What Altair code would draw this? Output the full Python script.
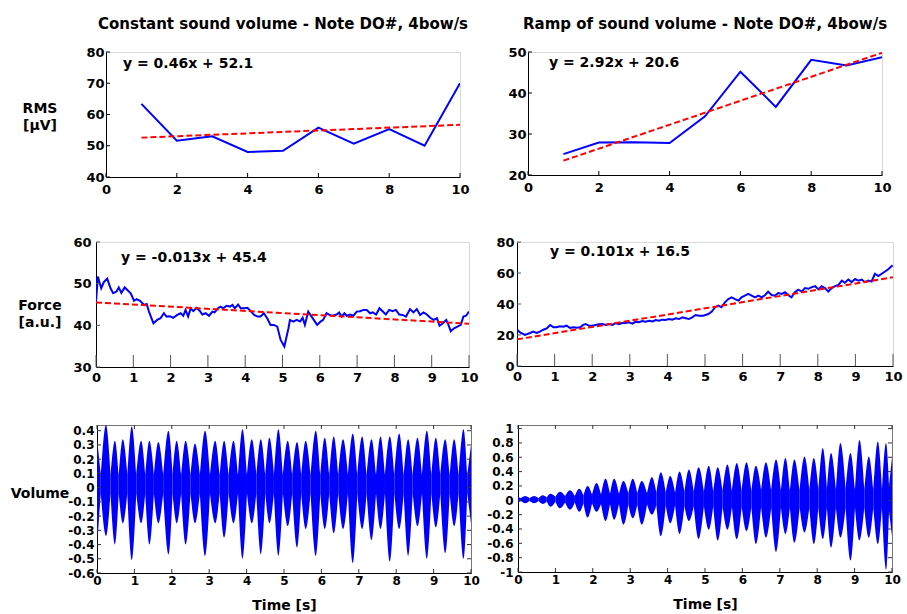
import altair as alt
import pandas as pd

FONT = "DejaVu Sans"
BLUE = "#0000ff"
RED = "#ff0000"

# ---------------- texts ----------------
col_titles = ["Constant sound volume - Note DO#, 4bow/s", "Ramp of sound volume - Note DO#, 4bow/s"]
row_labels = ["RMS\n[µV]", "Force\n[a.u.]", "Volume"]
eq_texts = ["y = 0.46x + 52.1", "y = 2.92x + 20.6", "y = -0.013x + 45.4", "y = 0.101x + 16.5"]
x_title = "Time [s]"

# ---------------- RMS (top row) ----------------
rms_x = [1, 2, 3, 4, 5, 6, 7, 8, 9, 10]
rms_const = [63.4, 51.6, 53.0, 48.0, 48.4, 55.8, 50.7, 55.3, 50.0, 70.0]
rms_ramp = [25.1, 27.9, 28.0, 27.8, 34.3, 45.2, 36.6, 48.1, 46.7, 48.7]
rms_fit_x = [1, 10]
rms_fit_const = [52.6, 56.7]
rms_fit_ramp = [23.5, 49.8]

# ---------------- Force (middle row) ----------------
force_const_t = [0.00, 0.05, 0.14, 0.21, 0.30, 0.39, 0.46, 0.55, 0.61, 0.68,
                 0.77, 0.84, 0.93, 1.02, 1.09, 1.18, 1.29, 1.36, 1.42, 1.54,
                 1.64, 1.73, 1.82, 1.89, 1.98, 2.07, 2.18, 2.27, 2.34, 2.40,
                 2.47, 2.54, 2.61, 2.70, 2.79, 2.85, 2.94, 3.03, 3.12, 3.18,
                 3.27, 3.34, 3.41, 3.50, 3.59, 3.66, 3.72, 3.81, 3.88, 3.97,
                 4.06, 4.15, 4.24, 4.33, 4.41, 4.50, 4.59, 4.68, 4.77, 4.86,
                 4.95, 5.05, 5.16, 5.20, 5.29, 5.38, 5.47, 5.54, 5.60, 5.69,
                 5.78, 5.87, 5.93, 6.02, 6.09, 6.18, 6.26, 6.34, 6.45, 6.52,
                 6.58, 6.66, 6.72, 6.81, 6.90, 6.99, 7.08, 7.17, 7.26, 7.35,
                 7.42, 7.51, 7.60, 7.69, 7.77, 7.86, 7.95, 8.04, 8.13, 8.22,
                 8.31, 8.42, 8.51, 8.60, 8.69, 8.78, 8.87, 8.96, 9.05, 9.14,
                 9.21, 9.30, 9.39, 9.45, 9.51, 9.60, 9.69, 9.78, 9.85, 9.92,
                 10.00]
force_const = [45.6, 51.7, 48.9, 50.4, 51.2, 48.9, 47.7, 48.1, 49.1, 47.8,
               49.1, 48.5, 47.7, 45.9, 46.3, 45.9, 44.9, 45.1, 43.3, 40.5,
               41.3, 41.7, 42.9, 42.1, 42.2, 41.8, 42.5, 42.9, 42.3, 43.7,
               42.1, 44.1, 43.4, 44.2, 43.4, 42.6, 42.9, 42.3, 43.3, 43.1,
               44.1, 44.5, 44.1, 44.7, 44.5, 44.9, 44.1, 45.0, 44.1, 44.1,
               44.2, 43.4, 42.5, 42.1, 42.1, 42.9, 41.7, 40.1, 40.1, 39.7,
               36.5, 34.9, 39.3, 41.3, 40.9, 41.3, 40.9, 41.8, 40.1, 43.3,
               42.1, 40.9, 40.1, 40.9, 41.3, 42.9, 42.5, 42.3, 42.6, 43.1,
               42.1, 42.9, 42.3, 42.6, 42.3, 43.3, 43.4, 43.7, 43.7, 42.9,
               43.1, 42.6, 44.1, 43.3, 42.6, 43.7, 43.4, 43.7, 42.6, 42.5,
               42.1, 43.9, 43.1, 43.9, 42.5, 43.1, 42.6, 41.8, 41.3, 41.7,
               39.9, 40.5, 41.3, 40.1, 38.6, 39.3, 39.7, 40.1, 42.1, 42.3,
               43.3]
force_ramp_t = [0.00, 0.08, 0.21, 0.35, 0.43, 0.52, 0.61, 0.70, 0.79, 0.88,
                0.97, 1.05, 1.14, 1.23, 1.32, 1.41, 1.50, 1.59, 1.68, 1.76,
                1.83, 1.91, 2.00, 2.09, 2.18, 2.27, 2.36, 2.45, 2.54, 2.62,
                2.71, 2.80, 2.89, 2.98, 3.07, 3.16, 3.24, 3.33, 3.42, 3.51,
                3.60, 3.69, 3.78, 3.86, 3.95, 4.04, 4.13, 4.22, 4.31, 4.40,
                4.49, 4.57, 4.66, 4.75, 4.84, 4.95, 5.09, 5.18, 5.27, 5.35,
                5.44, 5.53, 5.62, 5.71, 5.80, 5.89, 5.97, 6.06, 6.15, 6.24,
                6.33, 6.42, 6.51, 6.60, 6.68, 6.77, 6.86, 6.95, 7.04, 7.13,
                7.21, 7.30, 7.39, 7.48, 7.57, 7.66, 7.75, 7.84, 7.93, 8.02,
                8.10, 8.19, 8.28, 8.37, 8.46, 8.55, 8.64, 8.72, 8.81, 8.90,
                8.99, 9.08, 9.17, 9.25, 9.34, 9.43, 9.52, 9.61, 9.70, 9.79,
                9.88, 9.99]
force_ramp = [23.5, 21.7, 20.0, 21.3, 22.2, 21.3, 22.2, 23.4, 24.3, 26.5,
              25.0, 25.0, 25.6, 25.4, 26.0, 24.5, 25.0, 24.7, 25.0, 26.5,
              27.1, 26.0, 26.0, 26.5, 26.9, 27.1, 26.5, 27.1, 26.5, 27.7,
              26.9, 27.7, 27.7, 28.2, 27.3, 28.6, 28.2, 29.0, 28.6, 29.2,
              28.8, 29.7, 29.2, 29.9, 29.7, 30.3, 29.9, 30.8, 30.3, 31.4,
              30.8, 30.3, 31.4, 32.9, 32.5, 32.5, 33.5, 35.1, 37.9, 39.0,
              37.9, 41.1, 43.2, 44.3, 43.2, 42.2, 44.3, 45.4, 46.5, 45.4,
              44.3, 45.4, 44.3, 45.8, 48.0, 45.8, 45.4, 47.1, 46.5, 47.6,
              45.8, 44.3, 47.6, 49.2, 48.0, 50.3, 49.8, 50.9, 51.5, 49.4,
              51.5, 50.3, 48.0, 50.3, 51.5, 52.3, 55.1, 53.7, 55.8, 54.1,
              56.1, 55.1, 55.8, 54.1, 55.1, 54.5, 59.5, 58.0, 59.5, 61.0,
              62.6, 65.0]
force_fit_t = [0, 10]
force_fit_const = [45.5, 40.4]
force_fit_ramp = [17.2, 57.2]

# ---------------- Volume envelopes (bottom row) ----------------
vol_const_peak_t = [0.00, 0.24, 0.48, 0.69, 0.93, 1.18, 1.40, 1.64, 1.91, 2.13,
                    2.37, 2.62, 2.89, 3.16, 3.40, 3.65, 3.89, 4.14, 4.38, 4.61,
                    4.85, 5.10, 5.35, 5.58, 5.85, 6.09, 6.33, 6.58, 6.84, 7.09,
                    7.34, 7.58, 7.83, 8.08, 8.32, 8.57, 8.82, 9.06, 9.31, 9.55,
                    9.80, 10.00]
vol_const_peak_hi = [0.35, 0.44, 0.33, 0.34, 0.43, 0.33, 0.33, 0.32, 0.40, 0.33,
                     0.33, 0.31, 0.40, 0.33, 0.33, 0.33, 0.41, 0.34, 0.34, 0.35,
                     0.41, 0.33, 0.32, 0.33, 0.40, 0.35, 0.36, 0.34, 0.38, 0.36,
                     0.34, 0.36, 0.36, 0.38, 0.34, 0.35, 0.40, 0.35, 0.34, 0.34,
                     0.41, 0.30]
vol_const_peak_lo = [-0.42, -0.34, -0.40, -0.25, -0.51, -0.25, -0.40, -0.25, -0.47, -0.25,
                     -0.40, -0.25, -0.48, -0.25, -0.35, -0.25, -0.50, -0.25, -0.47, -0.25,
                     -0.48, -0.27, -0.42, -0.29, -0.48, -0.29, -0.32, -0.29, -0.53, -0.29,
                     -0.37, -0.29, -0.52, -0.29, -0.48, -0.27, -0.50, -0.28, -0.46, -0.27,
                     -0.50, -0.25]
vol_const_neck_t = [0.10, 0.36, 0.58, 0.81, 1.05, 1.29, 1.52, 1.77, 2.02, 2.25,
                    2.50, 2.75, 3.02, 3.28, 3.52, 3.77, 4.01, 4.26, 4.50, 4.73,
                    4.97, 5.22, 5.46, 5.71, 5.97, 6.21, 6.45, 6.71, 6.96, 7.21,
                    7.46, 7.70, 7.95, 8.20, 8.44, 8.69, 8.94, 9.18, 9.43, 9.67,
                    9.90]
vol_const_neck_hi = [0.09, 0.09, 0.09, 0.09, 0.09, 0.09, 0.09, 0.09, 0.09, 0.09,
                     0.09, 0.09, 0.09, 0.09, 0.09, 0.09, 0.09, 0.09, 0.09, 0.09,
                     0.09, 0.09, 0.09, 0.09, 0.09, 0.09, 0.09, 0.09, 0.09, 0.09,
                     0.09, 0.09, 0.09, 0.09, 0.09, 0.09, 0.09, 0.09, 0.09, 0.09,
                     0.09]
vol_const_neck_lo = [-0.04, -0.04, -0.04, -0.04, -0.04, -0.04, -0.04, -0.04, -0.04, -0.04,
                     -0.04, -0.04, -0.04, -0.04, -0.04, -0.04, -0.04, -0.04, -0.04, -0.04,
                     -0.04, -0.04, -0.04, -0.04, -0.04, -0.04, -0.04, -0.04, -0.04, -0.04,
                     -0.04, -0.04, -0.04, -0.04, -0.04, -0.04, -0.04, -0.04, -0.04, -0.04,
                     -0.04]

vol_ramp_peak_t = [0.00, 0.19, 0.43, 0.66, 0.87, 1.12, 1.39, 1.64, 1.86, 2.10,
                   2.34, 2.57, 2.82, 3.07, 3.31, 3.58, 3.82, 4.07, 4.32, 4.57,
                   4.83, 5.10, 5.34, 5.60, 5.85, 6.11, 6.36, 6.63, 6.90, 7.15,
                   7.39, 7.66, 7.91, 8.15, 8.37, 8.62, 8.89, 9.13, 9.38, 9.62,
                   9.84, 10.00]
vol_ramp_peak_hi = [0.05, 0.06, 0.06, 0.07, 0.09, 0.12, 0.14, 0.16, 0.20, 0.24,
                    0.30, 0.30, 0.27, 0.30, 0.27, 0.32, 0.39, 0.34, 0.40, 0.43,
                    0.46, 0.48, 0.46, 0.50, 0.52, 0.53, 0.48, 0.53, 0.57, 0.59,
                    0.57, 0.61, 0.59, 0.73, 0.66, 0.80, 0.66, 0.84, 0.61, 0.82,
                    0.80, 0.60]
vol_ramp_peak_lo = [-0.03, -0.04, -0.04, -0.05, -0.09, -0.11, -0.13, -0.16, -0.24, -0.16,
                    -0.29, -0.27, -0.34, -0.25, -0.34, -0.20, -0.50, -0.32, -0.47, -0.29,
                    -0.54, -0.41, -0.56, -0.41, -0.54, -0.43, -0.61, -0.52, -0.72, -0.47,
                    -0.59, -0.45, -0.61, -0.54, -0.66, -0.52, -0.84, -0.56, -0.52, -0.61,
                    -0.97, -0.50]
vol_ramp_neck_t = [0.08, 0.31, 0.55, 0.77, 1.00, 1.26, 1.52, 1.75, 1.98, 2.22,
                   2.46, 2.70, 2.95, 3.19, 3.45, 3.70, 3.95, 4.20, 4.45, 4.70,
                   4.97, 5.22, 5.47, 5.72, 5.98, 6.24, 6.50, 6.77, 7.03, 7.27,
                   7.53, 7.79, 8.03, 8.26, 8.50, 8.76, 9.01, 9.26, 9.50, 9.73,
                   9.92]
vol_ramp_neck_hi = [0.03, 0.03, 0.03, 0.04, 0.05, 0.06, 0.06, 0.07, 0.08, 0.08,
                    0.09, 0.09, 0.10, 0.10, 0.10, 0.11, 0.11, 0.11, 0.12, 0.12,
                    0.12, 0.12, 0.13, 0.13, 0.13, 0.13, 0.14, 0.14, 0.14, 0.14,
                    0.14, 0.15, 0.15, 0.15, 0.15, 0.15, 0.15, 0.15, 0.15, 0.15,
                    0.20]
vol_ramp_neck_lo = [-0.01, -0.01, -0.01, -0.02, -0.02, -0.03, -0.03, -0.04, -0.04, -0.05,
                    -0.05, -0.05, -0.06, -0.06, -0.06, -0.07, -0.07, -0.07, -0.08, -0.08,
                    -0.08, -0.08, -0.09, -0.09, -0.09, -0.09, -0.09, -0.10, -0.10, -0.10,
                    -0.10, -0.10, -0.10, -0.10, -0.10, -0.10, -0.10, -0.10, -0.10, -0.10,
                    -0.15]

# ---------------- tick values ----------------
x_ticks_even = [0, 2, 4, 6, 8, 10]
x_ticks_all = [0, 1, 2, 3, 4, 5, 6, 7, 8, 9, 10]
y_ticks_rms_const = [40, 50, 60, 70, 80]
y_ticks_rms_ramp = [20, 30, 40, 50]
y_ticks_force_const = [30, 40, 50, 60]
y_ticks_force_ramp = [0, 20, 40, 60, 80]
y_ticks_vol_const = [-0.6, -0.5, -0.4, -0.3, -0.2, -0.1, 0, 0.1, 0.2, 0.3, 0.4]
y_ticks_vol_ramp = [-1, -0.8, -0.6, -0.4, -0.2, 0, 0.2, 0.4, 0.6, 0.8, 1]

LBL = "datum.value < 0 ? '-' + format(-datum.value, '.2~f') : format(datum.value, '.2~f')"


def make_axis(values, size, pad, title=None):
    opts = dict(values=values, grid=False, ticks=False, tickSize=0,
                domainColor="black", domainWidth=1,
                labelFont=FONT, labelFontSize=size, labelFontWeight="bold",
                labelColor="black", labelPadding=pad, labelOverlap=False,
                labelFlush=False, labelExpr=LBL, title=title)
    if title:
        opts.update(titleFont=FONT, titleFontSize=14, titleFontWeight="bold",
                    titleColor="black", titlePadding=12)
    return alt.Axis(**opts)


def panel(w, h, xdom, ydom, xt, yt, xsize, xpad, ysize, ypad, data_layers,
          tick_len, tick_color, box_color, eq=None, eq_xy=(0, 0),
          xtitle=None, title=None, box_ticks=False):
    xs = alt.Scale(domain=xdom, nice=False, zero=False)
    ys = alt.Scale(domain=ydom, nice=False, zero=False)
    xa = make_axis(xt, xsize, xpad, xtitle)
    ya = make_axis(yt, ysize, ypad)

    def X(f):
        return alt.X(f, type="quantitative", scale=xs, axis=xa)

    def Y(f):
        return alt.Y(f, type="quantitative", scale=ys, axis=ya)

    layers = []
    for kind, df, color, dash in data_layers:
        if kind == "area":
            layers.append(alt.Chart(df).mark_area(color=color, opacity=1, interpolate="monotone", clip=True)
                          .encode(x=X("t"), y=Y("hi"), y2=alt.Y2("lo"), detail="lobe:N"))
        elif dash:
            layers.append(alt.Chart(df).mark_line(color=color, strokeWidth=2, strokeDash=[6, 3], clip=True)
                          .encode(x=X("t"), y=Y("v")))
        else:
            layers.append(alt.Chart(df).mark_line(color=color, strokeWidth=2, clip=True)
                          .encode(x=X("t"), y=Y("v")))
    dfx = pd.DataFrame({"t": xt})
    dfy = pd.DataFrame({"v": yt})
    layers.append(alt.Chart(dfx).mark_rule(color=tick_color, strokeWidth=1)
                  .encode(x=X("t"), y=alt.value(h), y2=alt.value(h - tick_len)))
    layers.append(alt.Chart(dfy).mark_rule(color=tick_color, strokeWidth=1)
                  .encode(y=Y("v"), x=alt.value(0), x2=alt.value(4)))
    if box_ticks:
        layers.append(alt.Chart(dfx).mark_rule(color=tick_color, strokeWidth=1)
                      .encode(x=X("t"), y=alt.value(0), y2=alt.value(4)))
        layers.append(alt.Chart(dfy).mark_rule(color=tick_color, strokeWidth=1)
                      .encode(y=Y("v"), x=alt.value(w), x2=alt.value(w - 4)))
    if eq:
        layers.append(alt.Chart(pd.DataFrame({"eq": [eq]}))
                      .mark_text(font=FONT, fontSize=14, fontWeight="bold", color="black",
                                 align="left", baseline="middle")
                      .encode(x=alt.value(eq_xy[0]), y=alt.value(eq_xy[1]), text="eq:N"))
    props = dict(width=w, height=h, view=alt.ViewBackground(stroke=box_color, strokeWidth=1))
    if title:
        props["title"] = alt.TitleParams(text=title, font=FONT, fontSize=15, fontWeight="bold",
                                         color="black", anchor="middle", offset=14)
    return alt.layer(*layers).properties(**props)


def label_cell(w, h, text, x, y, above, below):
    base = pd.DataFrame({"s": [text]})
    marker = (alt.Chart(base).mark_rule(color="white", strokeOpacity=0, strokeWidth=1)
              .encode(x=alt.value(1), y=alt.value(-above), y2=alt.value(h + below)))
    txt = (alt.Chart(base)
           .mark_text(font=FONT, fontSize=14, fontWeight="bold", color="black",
                      align="center", baseline="middle", lineBreak="\n", lineHeight=17)
           .encode(x=alt.value(x), y=alt.value(y), text="s:N"))
    return alt.layer(marker, txt).properties(width=w, height=h, view=alt.ViewBackground(strokeOpacity=0))


def gap_cell(w, h):
    return (alt.Chart(pd.DataFrame({"s": [0]}))
            .mark_rule(color="white", strokeOpacity=0)
            .encode(x=alt.value(1), y=alt.value(1), y2=alt.value(2))
            .properties(width=w, height=h, view=alt.ViewBackground(strokeOpacity=0)))


def line_df(t, v):
    return pd.DataFrame({"t": t, "v": v})


def lobes_df(pt, phi, plo, nt, nhi, nlo):
    # each lobe = neck before it, its peak, neck after it (all read values)
    rows = []
    for i in range(len(pt)):
        left = [j for j in range(len(nt)) if nt[j] < pt[i]]
        right = [j for j in range(len(nt)) if nt[j] > pt[i]]
        if left:
            j = left[-1]
            rows.append((i, nt[j], nhi[j], nlo[j]))
        rows.append((i, pt[i], phi[i], plo[i]))
        if right:
            j = right[0]
            rows.append((i, nt[j], nhi[j], nlo[j]))
    return pd.DataFrame(rows, columns=["lobe", "t", "hi", "lo"])


FAINT = "#d9d9d9"
BOXD = "#777777"

p11 = panel(354, 125, [0, 10], [40, 80], x_ticks_even, y_ticks_rms_const, 13, 6, 13, 2,
            [("line", line_df(rms_x, rms_const), BLUE, False),
             ("line", line_df(rms_fit_x, rms_fit_const), RED, True)],
            4, "black", FAINT, eq=eq_texts[0], eq_xy=(17, 12), title=col_titles[0])
p12 = panel(354, 123, [0, 10], [20, 50], x_ticks_even, y_ticks_rms_ramp, 13, 6, 13, 2,
            [("line", line_df(rms_x, rms_ramp), BLUE, False),
             ("line", line_df(rms_fit_x, rms_fit_ramp), RED, True)],
            4, "black", FAINT, eq=eq_texts[1], eq_xy=(21, 11), title=col_titles[1])
p21 = panel(373, 125, [0, 10], [30, 60], x_ticks_all, y_ticks_force_const, 13, 4, 13, 5,
            [("line", line_df(force_const_t, force_const), BLUE, False),
             ("line", line_df(force_fit_t, force_fit_const), RED, True)],
            12, "#555555", FAINT, eq=eq_texts[2], eq_xy=(25, 16))
p22 = panel(376, 124, [0, 10], [0, 80], x_ticks_all, y_ticks_force_ramp, 13, 4, 13, 3,
            [("line", line_df(force_ramp_t, force_ramp), BLUE, False),
             ("line", line_df(force_fit_t, force_fit_ramp), RED, True)],
            12, "#555555", FAINT, eq=eq_texts[3], eq_xy=(33, 10))
p31 = panel(374, 148, [0, 10], [-0.6, 0.44], x_ticks_all, y_ticks_vol_const, 12, 2, 12, 3,
            [("area", lobes_df(vol_const_peak_t, vol_const_peak_hi, vol_const_peak_lo,
                               vol_const_neck_t, vol_const_neck_hi, vol_const_neck_lo), BLUE, False)],
            4, "#333333", BOXD, xtitle=x_title, box_ticks=True)
p32 = panel(374, 147, [0, 10], [-1, 1.05], x_ticks_all, y_ticks_vol_ramp, 12, 2, 12, 5,
            [("area", lobes_df(vol_ramp_peak_t, vol_ramp_peak_hi, vol_ramp_peak_lo,
                               vol_ramp_neck_t, vol_ramp_neck_hi, vol_ramp_neck_lo), BLUE, False)],
            4, "#333333", BOXD, xtitle=x_title, box_ticks=True)

row1 = alt.hconcat(label_cell(106, 125, row_labels[0], 40, 57, 52, 55), p11, gap_cell(68, 125), p12,
                   spacing=0, bounds="flush")
row2 = alt.hconcat(label_cell(96, 125, row_labels[1], 40, 64, 10, 48), p21, gap_cell(48, 125), p22,
                   spacing=0, bounds="flush")
row3 = alt.hconcat(label_cell(97, 148, row_labels[2], 40, 69, 10, 41), p31, gap_cell(47, 148), p32,
                   spacing=0, bounds="flush")

chart = alt.vconcat(row1, row2, row3, spacing=0, bounds="full", padding=0).configure(background="white")

chart.save("out.html", embed_options={"renderer": "svg", "actions": False})
